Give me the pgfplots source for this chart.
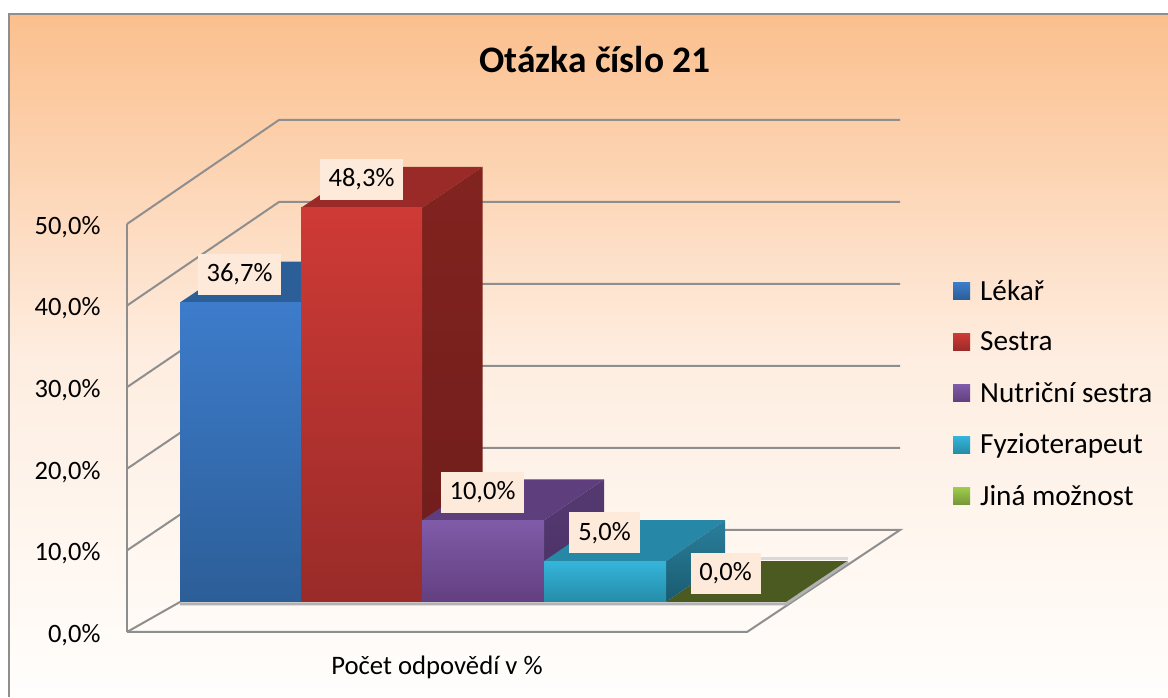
\documentclass[border=0pt]{standalone}
\usepackage{fontspec}
\setmainfont{Carlito}
\usepackage{pgfplots}
\pgfplotsset{compat=1.18}
\definecolor{gridc}{HTML}{8E8E8E}
\definecolor{lab}{HTML}{FDEADA}
\definecolor{bgT}{HTML}{FBBF8D}
\definecolor{bgM}{HTML}{FEEDE0}
\definecolor{bgB}{HTML}{FFFEFC}
\pgfdeclareverticalshading{bgfill}{100bp}{color(0bp)=(bgB); color(25bp)=(bgB); color(50bp)=(bgM); color(75bp)=(bgT); color(100bp)=(bgT)}
\definecolor{blT}{HTML}{3D7CCB}\definecolor{blB}{HTML}{2C5E98}\definecolor{blD}{HTML}{2C5E98}
\definecolor{reT}{HTML}{CF3A36}\definecolor{reB}{HTML}{992B28}\definecolor{reD}{HTML}{9A2A28}
\definecolor{reS}{HTML}{82231F}\definecolor{reS2}{HTML}{6E1D1B}
\definecolor{puT}{HTML}{7F5BA9}\definecolor{puB}{HTML}{633F80}\definecolor{puD}{HTML}{5E3E7C}
\definecolor{puS}{HTML}{553A72}\definecolor{puS2}{HTML}{4A3064}
\definecolor{cyT}{HTML}{35B5DB}\definecolor{cyB}{HTML}{258CA8}\definecolor{cyD}{HTML}{2688A6}
\definecolor{cyS}{HTML}{2A7F9C}\definecolor{cyS2}{HTML}{1A5B70}
\definecolor{grT}{HTML}{9FCB4A}\definecolor{grB}{HTML}{74963A}\definecolor{grD}{HTML}{4B5A21}
\newcommand{\dlabel}[4]{\node[fill=lab,inner sep=0pt,minimum width=#3pt,minimum height=41pt,font=\fontsize{26.5}{30}\selectfont] at (axis cs:#1,#2+7.15) {\raisebox{-2pt}{#4\%}};}
\begin{document}
\begin{tikzpicture}
\fill[white] (0,0) rectangle (1168pt,697pt);
\shade[shading=bgfill] (9pt,0) rectangle (1168pt,683pt);
\draw[gridc,line width=2.5pt] (9pt,0) -- (9pt,683pt) -- (1168pt,683pt);
\begin{axis}[
  scale only axis,width=1168pt,height=697pt,
  xmin=0,xmax=1168,ymin=-7.966,ymax=77.45,
  axis line style={draw=none},
  xtick=\empty,
  ytick={0,10,20,30,40,50},
  yticklabels={{0,0\%},{10,0\%},{20,0\%},{30,0\%},{40,0\%},{50,0\%}},
  major tick length=0pt,
  y tick label style={anchor=east,xshift=104pt,yshift=-3pt,font=\fontsize{26.5}{30}\selectfont},
  legend style={at={(axis cs:953,43.4)},anchor=north west,draw=none,fill=none,
    font=\fontsize{29.2}{33}\selectfont,row sep=26pt,inner sep=0pt,
    /tikz/every odd column/.append style={column sep=8pt}},
  legend cell align=left,
  legend image code/.code={\fill[#1,draw=none] (0pt,-8.5pt) rectangle (17pt,8.5pt);},
  legend entries={Lékař,Sestra,Nutriční sestra,Fyzioterapeut,Jiná možnost},
]
\addlegendimage{top color=blT,bottom color=blB}
\addlegendimage{top color=reT,bottom color=reB}
\addlegendimage{top color=puT,bottom color=puB}
\addlegendimage{top color=cyT,bottom color=cyB}
\addlegendimage{top color=grT,bottom color=grB}

% walls: gridlines at 0..50 %
\addplot[draw=gridc,line width=2pt,forget plot] coordinates {(127,0) (127,50)};
\addplot[draw=gridc,line width=2pt,forget plot] coordinates {(127,10) (279,22.55) (900,22.55)};
\addplot[draw=gridc,line width=2pt,forget plot] coordinates {(127,20) (279,32.6) (900,32.6)};
\addplot[draw=gridc,line width=2pt,forget plot] coordinates {(127,30) (279,42.65) (900,42.65)};
\addplot[draw=gridc,line width=2pt,forget plot] coordinates {(127,40) (279,52.7) (900,52.7)};
\addplot[draw=gridc,line width=2pt,forget plot] coordinates {(127,50) (279,62.75) (900,62.75)};
% floor
\addplot[draw=gridc,line width=2pt,forget plot] coordinates {(127,0) (747,0) (900,12.5) (279,12.5)};
\addplot[draw=gridc,line width=2pt,forget plot] coordinates {(127,0) (180,3.68)};
% shadow under the bars
\addplot[draw=black!30,line width=3pt,forget plot] coordinates {(180,3.45) (786,3.45) (848,8.6)};
\addplot[draw=black!15,line width=2.5pt,forget plot] coordinates {(725,9.0) (848,9.0)};
% Jina moznost: 0 %
\addplot[fill=grD,draw=none,forget plot] coordinates {(666,3.68) (786,3.68) (847,8.7) (725,8.7) (666,3.68)};
% Lekar: 36.7 %
\addplot[fill=blD,draw=none,forget plot] coordinates {(180,40.38) (301,40.38) (362,45.4) (241,45.4) (180,40.38)};
\addplot[top color=blT,bottom color=blB,draw=none,forget plot] coordinates {(180,3.68) (301,3.68) (301,40.38) (180,40.38) (180,3.68)};
% Sestra: 48.3 %
\addplot[fill=reD,draw=none,forget plot] coordinates {(301,51.98) (422,51.98) (482.5,57) (362,57) (301,51.98)};
\addplot[top color=reS,bottom color=reS2,draw=none,forget plot] coordinates {(422,3.68) (482.5,8.7) (482.5,57) (422,51.98) (422,3.68)};
\addplot[top color=reT,bottom color=reB,draw=none,forget plot] coordinates {(301,3.68) (422,3.68) (422,51.98) (301,51.98) (301,3.68)};
% Nutricni sestra: 10 %
\addplot[fill=puD,draw=none,forget plot] coordinates {(422,13.68) (544,13.68) (604,18.7) (483,18.7) (422,13.68)};
\addplot[top color=puS,bottom color=puS2,draw=none,forget plot] coordinates {(544,3.68) (604,8.7) (604,18.7) (544,13.68) (544,3.68)};
\addplot[top color=puT,bottom color=puB,draw=none,forget plot] coordinates {(422,3.68) (544,3.68) (544,13.68) (422,13.68) (422,3.68)};
% Fyzioterapeut: 5 %
\addplot[fill=cyD,draw=none,forget plot] coordinates {(544,8.68) (666,8.68) (725,13.7) (604,13.7) (544,8.68)};
\addplot[top color=cyS,bottom color=cyS2,draw=none,forget plot] coordinates {(666,3.68) (725,8.7) (725,13.7) (666,8.68) (666,3.68)};
\addplot[top color=cyT,bottom color=cyB,draw=none,forget plot] coordinates {(544,3.68) (666,3.68) (666,8.68) (544,8.68) (544,3.68)};
% data labels
\dlabel{239.5}{36.7}{83}{36,7}
\dlabel{361.5}{48.3}{83}{48,3}
\dlabel{482.5}{10}{83}{10,0}
\dlabel{604.5}{5}{71}{5,0}
\dlabel{725.5}{0}{70}{0,0}
% texts
\node[font=\fontsize{37.4}{42}\selectfont\bfseries] at (axis cs:595,70.2) {Otázka číslo 21};
\node[font=\fontsize{26.7}{30}\selectfont] at (axis cs:437,-4.3) {Počet odpovědí v \%};
\end{axis}
\pgfresetboundingbox
\path[use as bounding box] (0,0) rectangle (1168pt,697pt);
\end{tikzpicture}
\end{document}
